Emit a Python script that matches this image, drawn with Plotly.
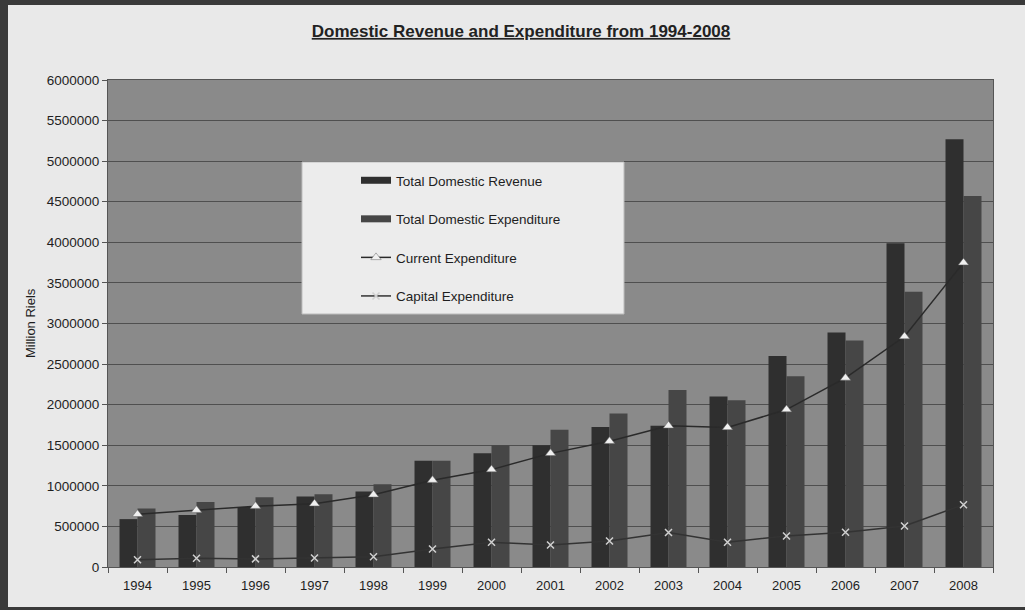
import plotly.graph_objects as go

years = ["1994", "1995", "1996", "1997", "1998", "1999", "2000", "2001",
         "2002", "2003", "2004", "2005", "2006", "2007", "2008"]
revenue = [590000, 640000, 740000, 870000, 930000, 1310000, 1400000, 1500000,
           1725000, 1740000, 2100000, 2600000, 2890000, 3990000, 5270000]
expenditure = [720000, 800000, 860000, 895000, 1020000, 1310000, 1500000, 1690000,
               1890000, 2180000, 2055000, 2350000, 2790000, 3390000, 4570000]
current_exp = [650000, 700000, 750000, 780000, 890000, 1070000, 1200000, 1400000,
               1550000, 1740000, 1720000, 1940000, 2330000, 2840000, 3750000]
capital_exp = [90000, 107000, 100000, 112000, 127000, 222000, 304000, 272000,
               320000, 425000, 305000, 383000, 428000, 505000, 768000]

FONT = "Liberation Sans, Arial, sans-serif"
REV_COLOR = "#2f2f2f"
EXP_COLOR = "#464646"

fig = go.Figure()
fig.add_trace(go.Bar(x=years, y=revenue, name="Total Domestic Revenue",
                     marker=dict(color=REV_COLOR, line=dict(width=0)),
                     showlegend=False))
fig.add_trace(go.Bar(x=years, y=expenditure, name="Total Domestic Expenditure",
                     marker=dict(color=EXP_COLOR, line=dict(width=0)),
                     showlegend=False))
fig.add_trace(go.Scatter(x=years, y=current_exp, name="Current Expenditure",
                         mode="lines+markers",
                         line=dict(color="#2a2a2a", width=1.5),
                         marker=dict(symbol="triangle-up", size=9, color="#f0f0f0",
                                     line=dict(color="#666", width=0.5)),
                         legendgroup="c", legendrank=3))
fig.add_trace(go.Scatter(x=years, y=capital_exp, name="Capital Expenditure",
                         mode="lines+markers",
                         line=dict(color="#333333", width=1.5),
                         marker=dict(symbol="x-thin", size=7, color="#cfcfcf",
                                     line=dict(color="#d0d0d0", width=1.5)),
                         legendgroup="d", legendrank=4))
# legend swatches for the bar series (wide rectangles as in the original)
fig.add_trace(go.Scatter(x=[None], y=[None], mode="lines", name="Total Domestic Revenue",
                         line=dict(color=REV_COLOR, width=7), legendgroup="a",
                         legendrank=1, hoverinfo="skip"))
fig.add_trace(go.Scatter(x=[None], y=[None], mode="lines", name="Total Domestic Expenditure",
                         line=dict(color=EXP_COLOR, width=7), legendgroup="b",
                         legendrank=2, hoverinfo="skip"))

W, H = 1025, 610
L, R, T, B = 108, 32, 80, 43
pw, ph = W - L - R, H - T - B

def px_x(p):
    return (p - L) / pw

def px_y(p):
    return (H - B - p) / ph

fig.update_layout(
    width=W, height=H,
    margin=dict(l=L, r=R, t=T, b=B),
    paper_bgcolor="#e9e9e9",
    plot_bgcolor="#8a8a8a",
    barmode="group",
    bargap=0.39,
    bargroupgap=0,
    font=dict(family=FONT, size=12, color="#1e1e1e"),
    title=dict(text="<b><u>Domestic Revenue and Expenditure from 1994-2008</u></b>",
               x=521 / W, xanchor="center", y=1 - 31 / H, yanchor="middle",
               font=dict(family=FONT, size=17, color="#222")),
    showlegend=True,
    legend=dict(x=px_x(356), y=px_y(165), xanchor="left", yanchor="top",
                bgcolor="rgba(0,0,0,0)", borderwidth=0,
                font=dict(family=FONT, size=13.5, color="#1e1e1e"),
                tracegroupgap=18, itemwidth=30, traceorder="grouped"),
    xaxis=dict(type="category", range=[-0.5, 14.5], showgrid=False,
               ticks="outside", tickson="boundaries",
               ticklen=5, tickcolor="#555", showline=True, linecolor="#555",
               linewidth=1, mirror=True, ticklabelstandoff=6,
               tickfont=dict(size=13, color="#1e1e1e")),
    yaxis=dict(range=[0, 6000000], dtick=500000, tickformat="d",
               showgrid=True, gridcolor="#4f4f4f", gridwidth=1,
               ticks="outside", ticklen=5, tickcolor="#555",
               showline=True, linecolor="#555", linewidth=1, mirror=True,
               zeroline=False, tickfont=dict(size=13.5, color="#1e1e1e")),
    shapes=[
        dict(type="rect", xref="paper", yref="paper",
             x0=px_x(302), x1=px_x(624), y0=px_y(314), y1=px_y(162),
             fillcolor="#ececec", line=dict(color="#bdbdbd", width=1), layer="above"),
        dict(type="rect", xref="paper", yref="paper",
             x0=px_x(0), x1=px_x(8), y0=px_y(H), y1=px_y(0),
             fillcolor="#3a3a3a", line=dict(width=0), layer="below"),
        dict(type="rect", xref="paper", yref="paper",
             x0=px_x(0), x1=px_x(W), y0=px_y(5), y1=px_y(0),
             fillcolor="#3a3a3a", line=dict(width=0), layer="below"),
        dict(type="rect", xref="paper", yref="paper",
             x0=px_x(0), x1=px_x(W), y0=px_y(H), y1=px_y(H - 3),
             fillcolor="#3a3a3a", line=dict(width=0), layer="below"),
    ],
    annotations=[
        dict(text="Million Riels", xref="paper", yref="paper",
             x=px_x(30), y=px_y(323), xanchor="center", yanchor="middle",
             textangle=-90, showarrow=False,
             font=dict(family=FONT, size=13, color="#1e1e1e")),
    ],
)

fig.write_html("out.html")
